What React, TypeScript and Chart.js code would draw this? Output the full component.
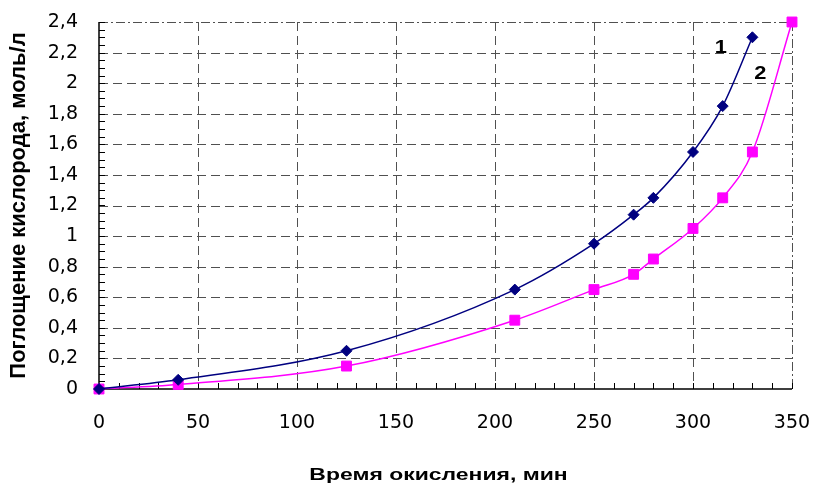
import React, { useEffect, useRef } from "react";
import { Chart, registerables } from "chart.js";

Chart.register(...registerables);

const xValues1 = [0, 40, 125, 210, 250, 270, 280, 300, 315, 330];
const series1 = [0, 0.06, 0.25, 0.65, 0.95, 1.14, 1.25, 1.55, 1.85, 2.3];
const xValues2 = [0, 40, 125, 210, 250, 270, 280, 300, 315, 330, 350];
const series2 = [0, 0.03, 0.15, 0.45, 0.65, 0.75, 0.85, 1.05, 1.25, 1.55, 2.4];

const xTicks = [0, 50, 100, 150, 200, 250, 300, 350];
const xTickLabels = ["0", "50", "100", "150", "200", "250", "300", "350"];
const yTicks = [0, 0.2, 0.4, 0.6, 0.8, 1, 1.2, 1.4, 1.6, 1.8, 2, 2.2, 2.4];
const yTickLabels = ["0", "0,2", "0,4", "0,6", "0,8", "1", "1,2", "1,4", "1,6", "1,8", "2", "2,2", "2,4"];

const seriesNames = ["1", "2"];
const seriesLabelX = [314, 334];
const seriesLabelY = [2.23, 2.06];

const xTitle = "Время окисления, мин";
const yTitle = "Поглощение кислорода, моль/л";

const FONT = "'Liberation Sans', Arial, sans-serif";
const TICK_FONT = "'DejaVu Sans', sans-serif";

const framePlugin = {
  id: "frame",
  beforeDatasetsDraw(chart: any) {
    const { ctx, chartArea, scales } = chart;
    const { left, right, top, bottom } = chartArea;
    const xs = scales.x;
    const ys = scales.y;
    ctx.save();
    ctx.strokeStyle = "#505050";
    ctx.lineWidth = 1;
    ctx.setLineDash([9, 5]);
    for (const v of xTicks) {
      if (v === xTicks[0] || v === xTicks[xTicks.length - 1]) continue;
      const px = Math.round(xs.getPixelForValue(v)) + 0.5;
      ctx.beginPath();
      ctx.moveTo(px, top);
      ctx.lineTo(px, bottom);
      ctx.stroke();
    }
    for (const v of yTicks) {
      if (v === yTicks[0] || v === yTicks[yTicks.length - 1]) continue;
      const py = Math.round(ys.getPixelForValue(v)) + 0.5;
      ctx.beginPath();
      ctx.moveTo(left, py);
      ctx.lineTo(right, py);
      ctx.stroke();
    }
    ctx.setLineDash([9, 3, 2, 3]);
    ctx.beginPath();
    ctx.moveTo(left, Math.round(top) + 0.5);
    ctx.lineTo(right, Math.round(top) + 0.5);
    ctx.moveTo(Math.round(right) + 0.5, top);
    ctx.lineTo(Math.round(right) + 0.5, bottom);
    ctx.stroke();
    ctx.setLineDash([]);
    ctx.strokeStyle = "#000000";
    ctx.lineWidth = 1;
    const xMin = xTicks[0];
    const xMax = xTicks[xTicks.length - 1];
    for (let v = xMin; v <= xMax + 0.001; v += 10) {
      const px = Math.round(xs.getPixelForValue(v)) + 0.5;
      ctx.beginPath();
      ctx.moveTo(px, bottom);
      ctx.lineTo(px, bottom - 6);
      ctx.stroke();
    }
    const yMin = yTicks[0];
    const yMax = yTicks[yTicks.length - 1];
    for (let k = 0; yMin + k * 0.05 <= yMax + 0.0001; k++) {
      const py = Math.round(ys.getPixelForValue(yMin + k * 0.05)) + 0.5;
      ctx.beginPath();
      ctx.moveTo(left, py);
      ctx.lineTo(left + 6, py);
      ctx.stroke();
    }
    ctx.lineWidth = 1.5;
    ctx.beginPath();
    ctx.moveTo(left, top);
    ctx.lineTo(left, bottom);
    ctx.lineTo(right, bottom);
    ctx.stroke();
    ctx.restore();
  },
  afterDatasetsDraw(chart: any) {
    const { ctx, scales, chartArea } = chart;
    ctx.save();
    ctx.fillStyle = "#000000";
    ctx.font = `bold 19px ${FONT}`;
    ctx.textAlign = "center";
    ctx.textBaseline = "middle";
    seriesNames.forEach((n, i) => {
      const px = scales.x.getPixelForValue(seriesLabelX[i]);
      const py = scales.y.getPixelForValue(seriesLabelY[i]);
      ctx.save();
      ctx.translate(px, py);
      ctx.scale(1.15, 1);
      ctx.fillText(n, 0, 0);
      ctx.restore();
    });
    ctx.save();
    ctx.translate(chartArea.left + (chartArea.right - chartArea.left) / 2 - 7, 480);
    ctx.scale(1.35, 1);
    ctx.textBaseline = "alphabetic";
    ctx.font = `bold 17px ${FONT}`;
    ctx.fillText(xTitle, 0, 0);
    ctx.restore();
    ctx.restore();
  },
};

const zeroPadding = (s: any) => {
  s.paddingTop = 0;
  s.paddingBottom = 0;
  s.paddingLeft = 0;
  s.paddingRight = 0;
};

export default function App() {
  const ref = useRef<HTMLCanvasElement | null>(null);
  useEffect(() => {
    document.body.style.margin = "0";
    if (!ref.current) return;
    const chart = new Chart(ref.current, {
      type: "line",
      data: {
        datasets: [
          {
            label: "1",
            data: xValues1.map((x, i) => ({ x, y: series1[i] })),
            borderColor: "#000080",
            backgroundColor: "#000080",
            borderWidth: 1.5,
            pointStyle: "rectRot",
            pointRadius: 5.5,
            pointBorderWidth: 1,
            cubicInterpolationMode: "monotone",
            clip: false,
          },
          {
            label: "2",
            data: xValues2.map((x, i) => ({ x, y: series2[i] })),
            borderColor: "#FF00FF",
            backgroundColor: "#FF00FF",
            borderWidth: 1.5,
            pointStyle: "rect",
            pointRadius: 7,
            pointBorderWidth: 1,
            cubicInterpolationMode: "monotone",
            clip: false,
          },
        ],
      },
      options: {
        animation: false,
        responsive: false,
        layout: { padding: { left: 0, right: 22, top: 22, bottom: 0 } },
        plugins: { legend: { display: false }, tooltip: { enabled: false } },
        scales: {
          x: {
            type: "linear",
            min: 0,
            max: 350,
            afterBuildTicks: (s: any) => {
              s.ticks = xTicks.map((v) => ({ value: v }));
            },
            afterFit: (s: any) => {
              s.height = 95;
              zeroPadding(s);
            },
            grid: { display: false, drawTicks: false },
            border: { display: false },
            ticks: {
              color: "#000000",
              padding: 23,
              maxRotation: 0,
              font: { family: TICK_FONT, size: 19 },
              callback: (_v: any, i: number) => xTickLabels[i],
            },
          },
          y: {
            type: "linear",
            min: 0,
            max: 2.4,
            afterBuildTicks: (s: any) => {
              s.ticks = yTicks.map((v) => ({ value: v }));
            },
            afterFit: (s: any) => {
              s.width = 99;
              zeroPadding(s);
            },
            grid: { display: false, drawTicks: false },
            border: { display: false },
            title: {
              display: true,
              text: yTitle,
              color: "#000000",
              font: { family: FONT, size: 22, weight: "bold" },
              padding: { top: 6, bottom: 0 },
            },
            ticks: {
              color: "#000000",
              padding: 21,
              font: { family: TICK_FONT, size: 19 },
              callback: (_v: any, i: number) => yTickLabels[i],
            },
          },
        },
      },
      plugins: [framePlugin],
    } as any);
    return () => chart.destroy();
  }, []);
  return (
    <div style={{ width: 814, height: 484, background: "#ffffff" }}>
      <canvas ref={ref} width={814} height={484} style={{ display: "block" }} />
    </div>
  );
}
